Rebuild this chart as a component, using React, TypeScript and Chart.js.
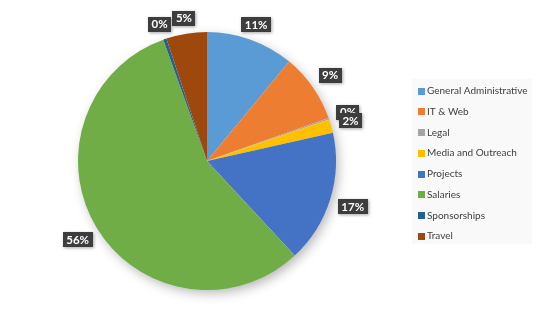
import React, { useEffect, useRef } from "react";
import { Chart, registerables } from "chart.js";

Chart.register(...registerables);

const categories = [
  "General Administrative",
  "IT & Web",
  "Legal",
  "Media and Outreach",
  "Projects",
  "Salaries",
  "Sponsorships",
  "Travel",
];
const values = [11.0, 8.6, 0.2, 1.7, 16.6, 56.4, 0.4, 5.1];
const colors = [
  "#5B9BD5",
  "#ED7D31",
  "#A5A5A5",
  "#FFC000",
  "#4472C4",
  "#70AD47",
  "#255E91",
  "#9E480E",
];

const FONT = "Lato, 'Open Sans', sans-serif";

const shadowPlugin = {
  id: "pieShadow",
  beforeDatasetsDraw(chart: any) {
    const meta = chart.getDatasetMeta(0);
    const arc = meta.data[0];
    if (!arc) return;
    const { x, y, outerRadius } = arc.getProps(["x", "y", "outerRadius"], true);
    const ctx = chart.ctx;
    ctx.save();
    ctx.shadowColor = "rgba(0,0,0,0.3)";
    ctx.shadowBlur = 12;
    ctx.shadowOffsetX = 3;
    ctx.shadowOffsetY = 4;
    ctx.fillStyle = "#ffffff";
    ctx.beginPath();
    ctx.arc(x, y, outerRadius - 1, 0, Math.PI * 2);
    ctx.fill();
    ctx.restore();
  },
};

const labelPlugin = {
  id: "outsideLabels",
  afterDatasetsDraw(chart: any) {
    const meta = chart.getDatasetMeta(0);
    const data = chart.data.datasets[0].data as number[];
    const total = data.reduce((a, b) => a + b, 0);
    const ctx = chart.ctx;
    ctx.save();
    ctx.font = `bold 11.5px ${FONT}`;
    ctx.textAlign = "center";
    ctx.textBaseline = "middle";
    meta.data.forEach((arc: any, i: number) => {
      const { x, y, startAngle, endAngle, outerRadius } = arc.getProps(
        ["x", "y", "startAngle", "endAngle", "outerRadius"],
        true
      );
      const mid = (startAngle + endAngle) / 2;
      const c = Math.cos(mid);
      const s = Math.sin(mid);
      const text = Math.round((data[i] / total) * 100) + "%";
      const tw = ctx.measureText(text).width;
      const w = tw + 7;
      const h = 15;
      const ext = Math.min(
        Math.abs(c) > 1e-6 ? w / 2 / Math.abs(c) : 1e9,
        Math.abs(s) > 1e-6 ? h / 2 / Math.abs(s) : 1e9
      );
      const d = outerRadius + 8 + ext;
      const cx = x + c * d;
      const cy = y + s * d;
      ctx.save();
      ctx.shadowColor = "rgba(0,0,0,0.35)";
      ctx.shadowBlur = 3;
      ctx.shadowOffsetX = 1;
      ctx.shadowOffsetY = 1;
      ctx.fillStyle = "#3d3d3d";
      ctx.fillRect(Math.round(cx - w / 2), Math.round(cy - h / 2), Math.round(w), h);
      ctx.restore();
      ctx.fillStyle = "#ffffff";
      ctx.fillText(text, cx, cy + 0.5);
    });
    ctx.restore();
  },
};

const legendPlugin = {
  id: "sideLegend",
  afterDraw(chart: any) {
    const ctx = chart.ctx;
    const lx = 412;
    const ly = 79;
    const lw = 120;
    const lh = 165;
    ctx.save();
    ctx.fillStyle = "#f9f9f9";
    ctx.fillRect(lx, ly, lw, lh);
    ctx.font = `10px ${FONT}`;
    ctx.textAlign = "left";
    ctx.textBaseline = "middle";
    const labels = chart.data.labels as string[];
    const bg = chart.data.datasets[0].backgroundColor as string[];
    labels.forEach((lab, i) => {
      const yy = 91 + i * 20.75;
      ctx.fillStyle = bg[i];
      ctx.fillRect(418, Math.round(yy - 3.5), 7, 7);
      ctx.fillStyle = "#404040";
      ctx.fillText(lab, 427, yy);
    });
    ctx.restore();
  },
};

export default function App() {
  const ref = useRef<HTMLCanvasElement | null>(null);
  useEffect(() => {
    if (!ref.current) return;
    const chart = new Chart(ref.current, {
      type: "pie",
      data: {
        labels: categories,
        datasets: [
          {
            data: values,
            backgroundColor: colors,
            borderWidth: 0,
          },
        ],
      },
      options: {
        animation: false,
        responsive: false,
        maintainAspectRatio: false,
        layout: { padding: { left: 78, right: 204, top: 32, bottom: 34 } },
        plugins: {
          legend: { display: false },
          tooltip: { enabled: false },
        },
      },
      plugins: [shadowPlugin, labelPlugin, legendPlugin],
    });
    return () => chart.destroy();
  }, []);
  return (
    <div style={{ position: "fixed", left: 0, top: 0, width: 540, height: 324, background: "#ffffff" }}>
      <canvas ref={ref} width={540} height={324} style={{ width: 540, height: 324 }} />
    </div>
  );
}
